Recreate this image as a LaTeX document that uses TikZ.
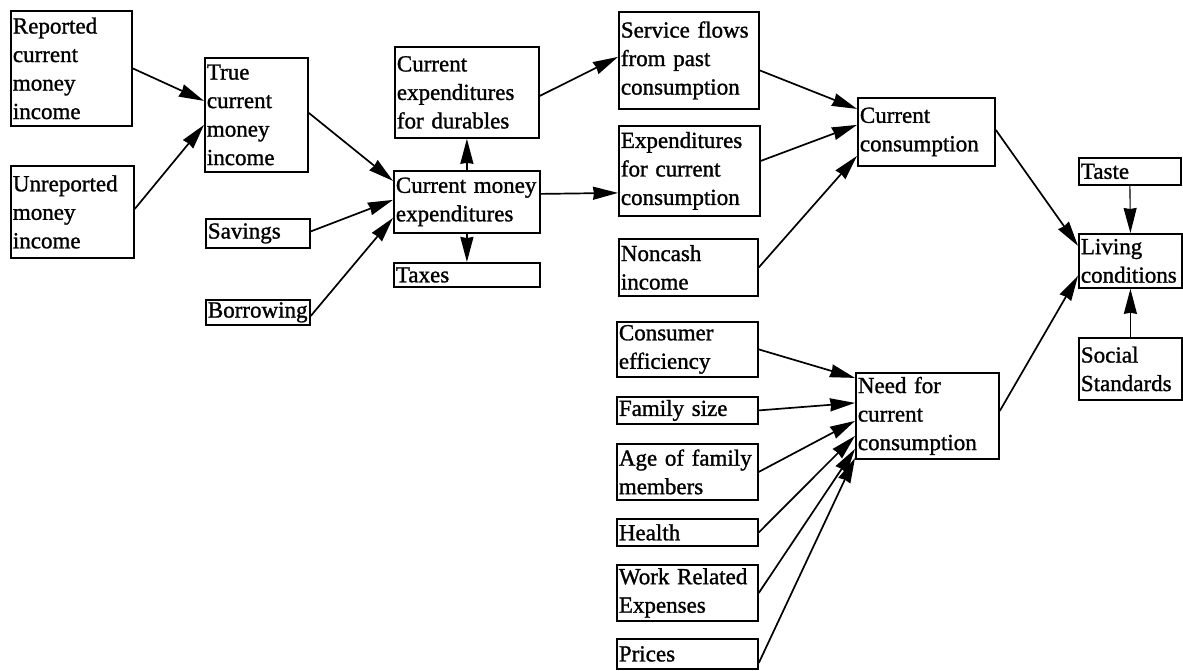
\documentclass[tikz,border=0pt]{standalone}
\usepackage{fontspec}
\setmainfont{Liberation Serif}[FakeBold=1.2]
\usetikzlibrary{arrows.meta}
\hyphenpenalty=10000

\begin{document}
\begin{tikzpicture}[x=1pt, y=-1pt,
  every node/.style={font=\fontsize{23}{28.5}\selectfont},
  box/.style={draw, line width=1.8pt, anchor=north west, align=left,
    inner xsep=2pt, inner ysep=0pt},
  arr/.style={line width=1.7pt, -{Stealth[length=25pt, width=13pt, inset=1pt]}},
  thinarr/.style={line width=1.1pt, -{Stealth[length=25pt, width=13pt, inset=1pt]}}]

  \useasboundingbox (0,0) rectangle (1183,670);

  % Money income
  \node[box, text width=117pt, minimum height=115pt] (rep) at (10,10) {Reported\\current\\money\\income};
  \node[box, text width=119pt, minimum height=92pt] (unrep) at (10,165) {Unreported\\money\\income};
  \node[box, text width=99pt, minimum height=114pt] (true) at (204,57) {True\\current\\money\\income};
  \node[box, text width=100pt, minimum height=29pt] (sav) at (205,218) {Savings};
  \node[box, text width=100pt, minimum height=25pt] (bor) at (205,299) {Borrowing};

  % Expenditures
  \node[box, text width=140pt, minimum height=91pt] (dur) at (394,46) {Current\\expenditures\\for durables};
  \node[box, text width=142pt, minimum height=62pt] (cme) at (393,170) {Current money\\expenditures};
  \node[box, text width=142pt, minimum height=24pt] (tax) at (393,262) {Taxes};

  % Consumption
  \node[box, text width=136pt, minimum height=97pt] (serv) at (618,11) {Service flows\\from past\\consumption};
  \node[box, text width=137pt, minimum height=90pt] (expc) at (618,125) {Expenditures\\for current\\consumption};
  \node[box, text width=135pt, minimum height=57pt] (nonc) at (618,238) {Noncash\\income};
  \node[box, text width=133pt, minimum height=68pt] (cc) at (857,97) {Current\\consumption};

  % Needs
  \node[box, text width=137pt, minimum height=55pt] (eff) at (616,321) {Consumer\\efficiency};
  \node[box, text width=137pt, minimum height=27pt] (fam) at (616,396) {Family size};
  \node[box, text width=137pt, minimum height=56pt] (age) at (616,443) {Age of family\\members};
  \node[box, text width=137pt, minimum height=27pt] (hlth) at (616,518) {Health};
  \node[box, text width=137pt, minimum height=56pt] (work) at (616,564) {Work Related\\Expenses};
  \node[box, text width=137pt, minimum height=30pt] (pric) at (616,638) {Prices};
  \node[box, text width=139pt, minimum height=86pt] (need) at (855,372) {Need for\\current\\consumption};

  % Living conditions
  \node[box, text width=98pt, minimum height=27pt] (taste) at (1078,157) {Taste};
  \node[box, text width=99pt, minimum height=54pt] (liv) at (1078,233) {Living\\conditions};
  \node[box, text width=99pt, minimum height=62pt] (soc) at (1078,337) {Social\\Standards};

  % Arrows: income to expenditures
  \draw[arr] (rep.east) -- ([yshift=14pt]true.west);
  \draw[arr] ([yshift=3pt]unrep.east) -- ([yshift=-10pt]true.west);
  \draw[arr] ([yshift=2pt]true.east) -- ([yshift=21pt]cme.west);
  \draw[arr] ([yshift=2pt]sav.east) -- ([yshift=2pt]cme.west);
  \draw[arr] ([yshift=-3.5pt]bor.east) -- ([yshift=-16pt]cme.west);
  \draw[arr] (cme.north) -- (dur.south);
  \draw[arr] (cme.south) -- (tax.north);

  % Arrows: expenditures to consumption
  \draw[arr] ([yshift=-3.5pt]dur.east) -- ([yshift=3.5pt]serv.west);
  \draw[arr] ([yshift=8pt]cme.east) -- ([yshift=-22pt]expc.west);
  \draw[arr] ([yshift=-10pt]serv.east) -- ([yshift=23pt]cc.west);
  \draw[arr] ([yshift=10pt]expc.east) -- ([yshift=7pt]cc.west);
  \draw[arr] (nonc.east) -- ([yshift=-24pt]cc.west);

  % Arrows: needs
  \draw[arr] (eff.east) -- ([yshift=38pt]need.west);
  \draw[arr] (fam.east) -- ([yshift=13pt]need.west);
  \draw[arr] (age.east) -- ([yshift=-5pt]need.west);
  \draw[arr] (hlth.east) -- ([yshift=-20pt]need.west);
  \draw[arr] (work.east) -- ([yshift=-33pt]need.west);
  \draw[arr] ([yshift=-9pt]pric.east) -- ([yshift=-42pt]need.west);

  % Arrows: living conditions
  \draw[arr] ([yshift=2pt]cc.east) -- ([yshift=15pt]liv.west);
  \draw[arr] ([yshift=5pt]need.east) -- ([yshift=-15pt]liv.west);
  \draw[thinarr] (taste.south) -- (liv.north);
  \draw[thinarr] (soc.north) -- (liv.south);
\end{tikzpicture}
\end{document}
